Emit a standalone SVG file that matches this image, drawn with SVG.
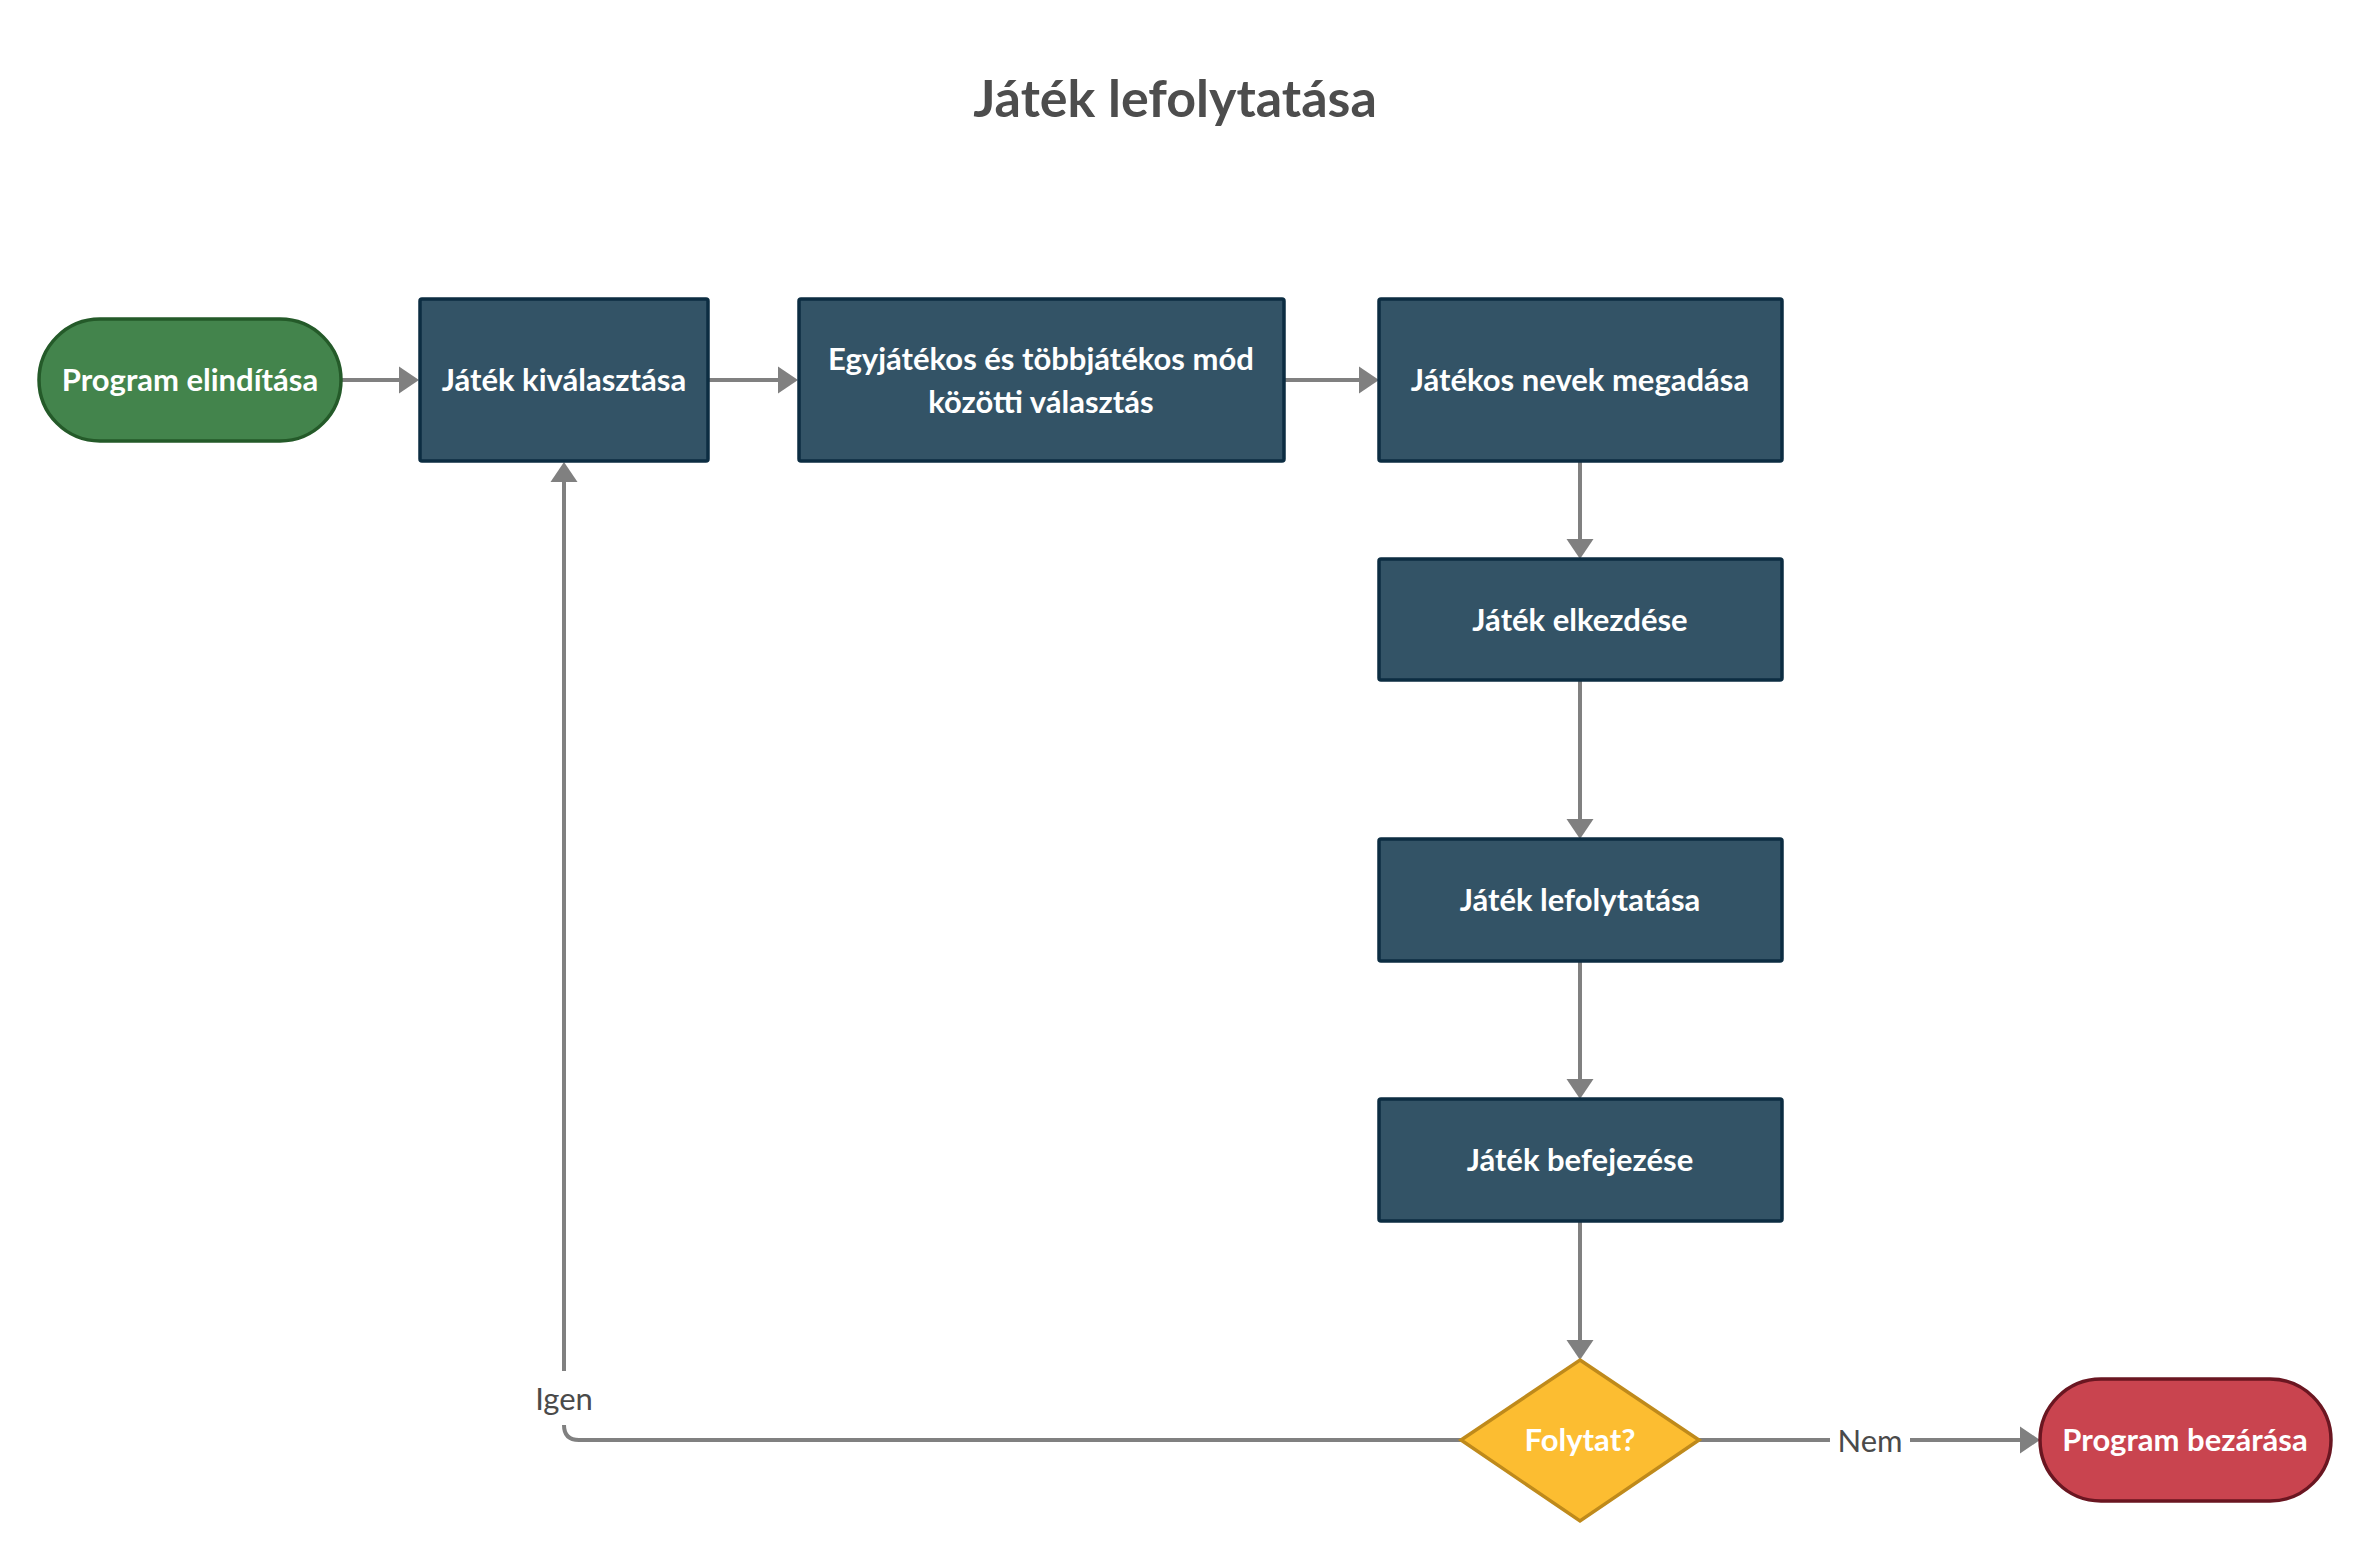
<svg xmlns="http://www.w3.org/2000/svg" width="2371" height="1560" viewBox="0 0 2371 1560">
<style>
text{font-family:Lato,"Liberation Sans",sans-serif}
.t{font-size:31px;font-weight:bold;fill:#ffffff;text-anchor:middle}
.box{fill:#335366;stroke:#0c2d42;stroke-width:3.5}
.start{fill:#43844c;stroke:#245a29;stroke-width:3.5}
.end{fill:#c9444f;stroke:#6a1621;stroke-width:3.5}
.dec{fill:#fcbd31;stroke:#bf8a1b;stroke-width:3.5}
.c{fill:none;stroke:#808080;stroke-width:4}
.lbl{font-size:31px;fill:#4a4a4a;text-anchor:middle}
.title{font-size:52px;font-weight:bold;fill:#4d4d4d;text-anchor:middle}
</style>
<defs>
<marker id="ah" markerUnits="userSpaceOnUse" markerWidth="22" markerHeight="28" refX="14" refY="14" orient="auto" viewBox="0 0 22 28">
<path d="M0,0.5 L20,14 L0,27.5 z" fill="#808080"/>
</marker>
</defs>
<rect width="2371" height="1560" fill="#ffffff"/>
<text class="title" x="1175" y="117">Játék lefolytatása</text>

<g id="connectors">
<path class="c" d="M341,380 H413" marker-end="url(#ah)"/>
<path class="c" d="M708,380 H792" marker-end="url(#ah)"/>
<path class="c" d="M1284,380 H1373" marker-end="url(#ah)"/>
<path class="c" d="M1580,461 V553" marker-end="url(#ah)"/>
<path class="c" d="M1580,680 V833" marker-end="url(#ah)"/>
<path class="c" d="M1580,961 V1093" marker-end="url(#ah)"/>
<path class="c" d="M1580,1221 V1354" marker-end="url(#ah)"/>
<path class="c" d="M1699,1440 H2034" marker-end="url(#ah)"/>
<path class="c" d="M1461,1440 H579 Q564,1440 564,1425 V468" marker-end="url(#ah)"/>
<rect x="1830" y="1418" width="80" height="44" fill="#ffffff"/>
<text class="lbl" x="1870" y="1452">Nem</text>
<rect x="530" y="1371" width="68" height="54" fill="#ffffff"/>
<text class="lbl" x="564" y="1410">Igen</text>
</g>

<g id="start">
<rect class="start" x="39" y="319" width="302" height="122" rx="61" ry="61"/>
<text class="t" x="190" y="391">Program elindítása</text>
</g>
<g id="jatek-kivalasztasa">
<rect class="box" x="420" y="299" width="288" height="162" rx="2"/>
<text class="t" x="564" y="391">Játék kiválasztása</text>
</g>
<g id="mod-valasztas">
<rect class="box" x="799" y="299" width="485" height="162" rx="2"/>
<text class="t" x="1041" y="370">Egyjátékos és többjátékos mód</text>
<text class="t" x="1041" y="413">közötti választás</text>
</g>
<g id="nevek">
<rect class="box" x="1379" y="299" width="403" height="162" rx="2"/>
<text class="t" x="1580" y="391">Játékos nevek megadása</text>
</g>
<g id="elkezdes">
<rect class="box" x="1379" y="559" width="403" height="121" rx="2"/>
<text class="t" x="1580" y="631">Játék elkezdése</text>
</g>
<g id="lefolytatas">
<rect class="box" x="1379" y="839" width="403" height="122" rx="2"/>
<text class="t" x="1580" y="911">Játék lefolytatása</text>
</g>
<g id="befejezes">
<rect class="box" x="1379" y="1099" width="403" height="122" rx="2"/>
<text class="t" x="1580" y="1171">Játék befejezése</text>
</g>
<g id="folytat">
<polygon class="dec" points="1580,1360 1699,1440 1580,1521 1461,1440"/>
<text class="t" x="1580" y="1451">Folytat?</text>
</g>
<g id="end">
<rect class="end" x="2040" y="1379" width="291" height="122" rx="61" ry="61"/>
<text class="t" x="2185" y="1451">Program bezárása</text>
</g>
</svg>
